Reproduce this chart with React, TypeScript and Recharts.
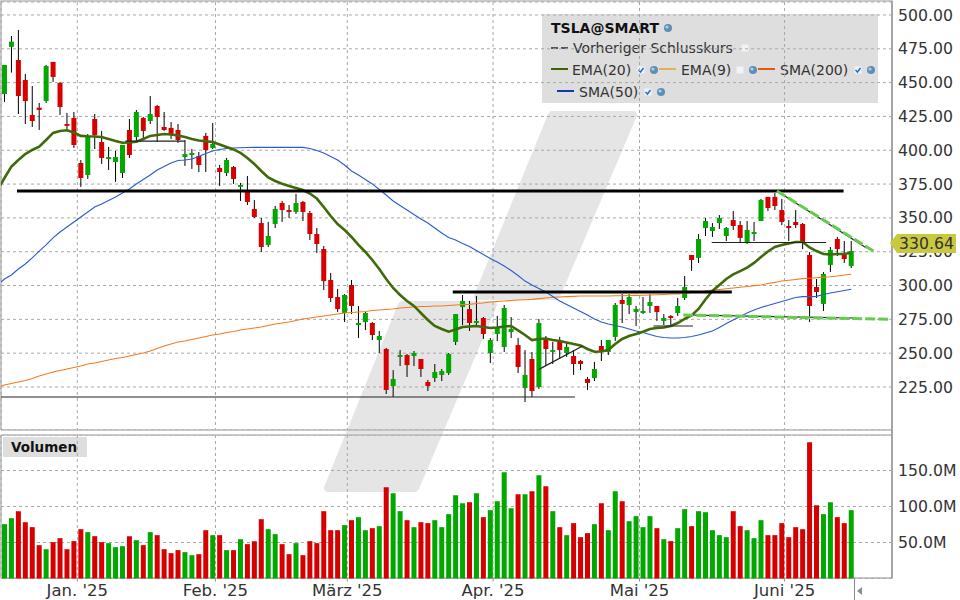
import React from 'react';
import { ComposedChart, Bar, Line, Cell, XAxis, YAxis, CartesianGrid, ReferenceLine } from 'recharts';

const FONT = '"DejaVu Sans", sans-serif';
const UP = '#00a800';
const DOWN = '#d60000';
const GRID = '#a8a8a8';

// daily candles, first day of the window first
const opens = [
  441.6, 476.4, 466.7, 452.0, 426.1, 431.5, 436.4, 465.3, 449.7, 419.4, 423.9, 390.6, 381.7, 423.1, 406.1, 393.5, 391.3, 383.2, 415.0, 409.8,
  423.9, 421.6, 432.7, 417.2, 416.5, 415.0, 395.0, 396.5, 395.8, 410.6, 401.7, 386.9, 383.2, 387.6, 372.9, 370.6, 356.6, 346.2, 330.0, 345.5,
  361.0, 355.8, 354.4, 361.8, 353.6, 338.1, 327.0, 304.1, 291.5, 279.7, 300.4, 270.8, 273.0, 272.3, 259.7, 253.1, 225.7, 247.2, 248.6, 247.9,
  245.7, 228.7, 231.6, 233.9, 235.3, 258.3, 284.1, 282.6, 272.3, 276.0, 250.1, 264.2, 254.6, 265.6, 256.0, 224.2, 245.7, 225.0, 259.7, 250.9,
  258.3, 250.1, 247.9, 244.2, 230.9, 231.6, 255.3, 250.9, 262.0, 289.3, 285.6, 280.4, 279.7, 284.9, 284.9, 273.8, 277.5, 279.7, 290.8, 322.6,
  320.4, 342.5, 340.3, 346.2, 336.6, 348.4, 344.7, 332.2, 338.1, 347.7, 365.5, 365.5, 355.8, 344.0, 347.0, 345.5, 322.6, 298.9, 286.4, 315.2,
  334.4, 322.6, 314.4,
];
const closes = [
  463.0, 480.3, 440.1, 436.4, 421.6, 429.8, 462.3, 454.2, 432.0, 418.0, 403.9, 379.5, 409.8, 411.3, 394.3, 395.0, 395.0, 403.9, 396.5, 428.3,
  414.3, 426.8, 424.6, 415.0, 412.0, 407.6, 397.2, 398.0, 389.1, 400.2, 404.6, 383.9, 392.8, 378.8, 374.3, 361.8, 350.7, 328.5, 336.6, 356.6,
  355.8, 354.4, 361.0, 354.4, 338.1, 330.7, 303.3, 290.8, 282.6, 293.0, 284.9, 272.3, 279.7, 263.4, 262.7, 222.8, 230.9, 248.6, 241.2, 250.1,
  238.3, 225.7, 236.1, 236.8, 249.4, 278.9, 288.6, 272.3, 273.8, 264.2, 259.7, 268.6, 283.4, 267.9, 239.8, 233.9, 222.0, 272.3, 253.1, 252.3,
  252.3, 254.6, 242.0, 242.0, 228.0, 238.3, 251.6, 259.7, 285.6, 286.4, 291.5, 282.7, 281.2, 287.8, 280.4, 276.0, 276.0, 284.9, 298.9, 318.9,
  334.4, 347.7, 343.3, 349.9, 342.5, 344.0, 335.2, 341.1, 339.6, 363.2, 357.3, 358.8, 347.0, 342.5, 344.7, 332.2, 284.9, 295.2, 308.5, 326.3,
  327.0, 319.6, 325.5,
];
const highs = [
  463.0, 484.5, 488.9, 456.4, 447.5, 435.0, 463.0, 465.3, 450.5, 427.6, 428.3, 392.8, 412.0, 426.8, 414.3, 402.4, 399.5, 403.9, 423.1, 429.8,
  424.6, 440.1, 433.5, 428.3, 420.9, 419.4, 407.6, 400.9, 398.7, 412.8, 420.2, 389.1, 394.3, 388.4, 375.8, 381.0, 363.2, 349.9, 347.0, 358.8,
  362.5, 359.5, 367.7, 362.5, 355.1, 342.5, 329.2, 309.3, 297.4, 293.7, 304.1, 284.9, 280.4, 273.0, 266.4, 253.8, 237.5, 252.3, 249.4, 251.6,
  245.7, 230.2, 242.0, 238.3, 250.1, 278.9, 293.0, 288.6, 292.3, 276.7, 261.2, 277.5, 285.6, 276.7, 261.2, 252.3, 250.9, 275.3, 262.7, 258.3,
  262.0, 258.3, 252.3, 244.9, 232.4, 243.5, 259.7, 259.7, 287.1, 293.7, 293.7, 284.9, 291.5, 293.7, 284.9, 278.9, 278.2, 290.8, 307.0, 322.6,
  338.1, 349.9, 346.2, 352.1, 343.3, 355.1, 347.7, 347.7, 347.0, 364.0, 365.5, 368.4, 364.0, 348.4, 355.8, 346.2, 324.8, 304.8, 310.0, 328.5,
  335.9, 332.9, 332.9,
];
const lows = [
  435.7, 457.4, 426.8, 419.4, 417.2, 415.0, 435.0, 450.5, 426.1, 415.0, 401.7, 372.9, 378.8, 400.9, 389.9, 385.4, 376.6, 379.5, 394.3, 405.4,
  409.1, 419.4, 406.1, 414.3, 408.3, 405.4, 388.4, 386.2, 383.9, 383.9, 400.9, 373.6, 381.0, 375.1, 362.5, 359.5, 349.9, 324.8, 328.5, 342.5,
  347.0, 349.9, 352.9, 347.7, 333.7, 324.1, 296.7, 287.8, 280.4, 273.0, 278.9, 261.2, 267.1, 259.7, 250.1, 219.8, 217.6, 240.5, 232.4, 240.5,
  232.4, 222.0, 228.7, 229.4, 233.9, 256.0, 270.8, 266.4, 270.1, 260.5, 242.7, 259.0, 250.9, 261.2, 235.3, 213.9, 217.6, 223.5, 241.2, 242.0,
  245.7, 247.2, 233.9, 237.5, 222.8, 229.4, 244.2, 248.6, 259.0, 272.3, 278.9, 270.1, 278.9, 279.7, 273.8, 270.8, 270.8, 277.5, 289.3, 310.8,
  316.7, 336.6, 335.9, 341.8, 332.9, 341.1, 331.4, 330.7, 332.9, 347.7, 355.1, 355.8, 344.7, 332.9, 342.5, 327.0, 273.0, 290.8, 281.2, 310.0,
  321.8, 316.7, 312.9,
];
// volume in millions
const volumes = [
  75.5, 83.8, 93.5, 78.2, 71.3, 46.3, 40.7, 50.5, 56, 40.7, 51.9, 68.5, 64.4, 58.8, 50.5, 49.1, 43.5, 44.9, 58.8, 53.2,
  46.3, 64.4, 60.2, 40.7, 35.2, 39.4, 36.6, 32.4, 33.8, 67.1, 60.2, 60.2, 39.4, 39.4, 54.6, 47.7, 51.9, 82.4, 68.5, 61.6,
  47.7, 33.8, 49.1, 32.4, 51.9, 49.1, 93.5, 67.1, 67.1, 74.1, 81, 85.2, 67.1, 69.9, 72.7, 126.9, 118.5, 93.5, 81, 71.3,
  78.2, 76.9, 81, 71.3, 89.4, 115.7, 104.6, 106, 118.5, 85.2, 94.9, 107.4, 147.7, 97.7, 117.1, 117.1, 121.3, 143.5, 128.2, 93.5,
  71.3, 60.2, 76.9, 57.4, 63, 75.5, 104.6, 67.1, 121.3, 107.4, 79.6, 86.6, 71.3, 86.6, 69.9, 54.6, 51.9, 69.9, 96.3, 72.7,
  93.5, 92.1, 67.1, 60.2, 57.4, 93.5, 72.7, 67.1, 56, 81, 60.2, 60.2, 76.9, 57.4, 71.3, 68.5, 189.4, 101.9, 89.4, 106,
  85.2, 76.9, 94.9,
];
// the averages start one day earlier, that day is cut off by the panel edge
const ema20 = [
  370.6, 379.5, 387.9, 392.8, 397.2, 400.2, 402.6, 407.6, 412.8, 414.3, 414.8, 413.1, 410.6, 410.3, 410.2, 409.8, 408.3, 406.9, 405.6, 405.7,
  406.3, 408.3, 410.6, 411.3, 412.0, 411.7, 410.9, 409.8, 408.3, 407.2, 406.6, 406.1, 404.3, 402.4, 400.6, 398.0, 394.3, 389.8, 384.7, 379.9,
  377.3, 375.3, 373.6, 372.1, 370.6, 368.0, 364.3, 358.1, 351.4, 345.5, 341.1, 335.9, 330.0, 324.8, 318.9, 312.2, 304.8, 298.2, 293.0, 288.6,
  284.9, 279.7, 274.5, 270.1, 267.9, 265.9, 267.5, 269.3, 269.7, 270.1, 269.3, 268.6, 269.0, 269.7, 270.1, 266.8, 263.4, 259.7, 260.5, 260.8,
  259.7, 259.0, 257.9, 256.8, 255.7, 253.1, 251.1, 251.2, 252.3, 256.8, 260.5, 262.7, 264.2, 265.9, 267.9, 268.6, 269.0, 270.1, 272.3, 275.3,
  277.9, 282.7, 289.7, 296.0, 300.4, 304.8, 308.2, 310.7, 313.3, 316.7, 321.1, 325.2, 328.5, 330.0, 331.1, 332.2, 332.2, 328.1, 325.5, 323.3,
  322.9, 323.3, 323.3, 324.3,
];
const sma50 = [
  300.4, 304.8, 307.8, 312.2, 315.9, 320.4, 325.5, 330.0, 335.2, 339.6, 343.3, 347.0, 350.7, 354.4, 358.1, 360.3, 362.9, 365.5, 368.4, 371.4,
  375.1, 378.4, 381.7, 385.4, 388.0, 390.6, 392.4, 392.8, 393.5, 395.4, 397.6, 399.5, 400.6, 401.3, 401.7, 401.8, 402.0, 402.1, 402.1, 402.1,
  402.1, 402.1, 402.1, 402.1, 402.1, 401.3, 399.8, 398.0, 395.4, 392.8, 389.1, 384.7, 381.7, 378.4, 375.1, 371.0, 366.9, 362.5, 359.2, 355.8,
  352.5, 349.2, 346.2, 342.5, 338.8, 335.5, 333.7, 331.1, 328.9, 325.9, 322.9, 320.0, 317.4, 314.4, 311.1, 307.4, 303.3, 300.4, 297.8, 295.2,
  291.9, 288.6, 286.0, 283.4, 280.8, 278.2, 275.3, 273.0, 271.6, 270.5, 269.3, 267.9, 266.4, 265.3, 263.8, 262.3, 261.6, 261.2, 261.2, 261.6,
  262.3, 263.4, 264.9, 266.4, 269.0, 271.9, 274.5, 277.1, 279.7, 281.9, 283.8, 285.2, 286.7, 288.2, 289.7, 291.2, 291.8, 291.8, 292.0, 293.4,
  294.5, 295.4, 296.3, 297.2,
];
const sma200 = [
  225.4, 226.5, 227.6, 228.7, 229.8, 231.3, 233.1, 234.6, 236.1, 237.2, 238.3, 239.4, 240.5, 242.0, 242.7, 243.8, 244.9, 246.0, 246.8, 247.9,
  249.0, 250.1, 251.6, 253.5, 255.3, 256.8, 258.3, 259.0, 260.1, 261.2, 262.3, 263.4, 264.2, 265.3, 266.0, 267.1, 267.9, 268.6, 269.3, 270.5,
  271.6, 272.3, 273.0, 274.2, 275.3, 276.0, 276.7, 277.5, 278.2, 278.9, 279.7, 280.1, 280.4, 280.8, 281.5, 281.9, 282.3, 282.6, 283.4, 283.8,
  284.1, 284.5, 284.5, 284.9, 284.9, 285.2, 285.6, 286.0, 286.1, 286.7, 287.1, 287.8, 288.2, 288.6, 288.9, 289.3, 289.5, 289.8, 290.3, 290.8,
  291.3, 291.5, 291.8, 292.0, 292.3, 292.3, 292.3, 292.3, 292.3, 292.4, 292.5, 292.6, 292.7, 292.8, 293.0, 293.2, 293.4, 293.7, 293.7, 294.1,
  294.8, 295.2, 295.9, 296.7, 297.1, 297.6, 298.2, 298.7, 299.3, 299.9, 300.4, 301.5, 302.3, 303.4, 303.9, 304.5, 305.1, 305.4, 305.8, 306.2,
  306.5, 307.0, 307.8, 308.3,
];

const priceTicks = [225, 250, 275, 300, 325, 350, 375, 400, 425, 450, 475, 500];
const volumeTicks = [50, 100, 150];
const monthTicks = [10.5, 30.4, 49.4, 70.4, 91.5, 112.4];
const monthLabels = ["Jan. '25", "Feb. '25", "März '25", "Apr. '25", "Mai '25", "Juni '25"];
const lastPrice = 330.64;

// drawn trend lines as [day, price, day, price]
const heavyLines = [
  [1.8, 369.9, 120.9, 369.9],
  [64.6, 295.2, 104.8, 295.2],
];
const thinLines = [
  [-0.5, 217.6, 82.2, 217.6],
  [101.9, 331.8, 118.4, 331.8],
  [93.5, 270.1, 99.2, 270.1],
  [77, 238.0, 83.3, 255.3],
  [17.4, 406.8, 26, 406.8],
  [111.3, 369.9, 124.2, 327.7],
  [98.8, 278.2, 122.5, 276],
];
const dashedLines = [
  [111.3, 369.9, 125.2, 325.5],
  [97.8, 278.2, 127.6, 275],
];

const chartData = ema20.map((_, k) => {
  const i = k - 1;
  const row: any = { day: i, ema20: ema20[k], sma50: sma50[k], sma200: sma200[k] };
  if (i >= 0) {
    row.open = opens[i];
    row.close = closes[i];
    row.range = [lows[i], highs[i]];
    row.volume = volumes[i];
  }
  return row;
});

const xDomain = [-0.5, 127.88];
const priceDomain = [193.2, 509.6];

const Candle = (props: any) => {
  const { x, y, width, height, payload } = props;
  if (!payload || payload.open === undefined) return null;
  const [low, high] = payload.range;
  const perUnit = Math.abs(height) / (high - low);
  const top = y + (high - Math.max(payload.open, payload.close)) * perUnit;
  const bodyHeight = Math.max(Math.abs(payload.open - payload.close) * perUnit, 1);
  const color = payload.close >= payload.open ? UP : DOWN;
  return (
    <g>
      <line x1={x + width / 2} x2={x + width / 2} y1={y} y2={y + Math.abs(height)} stroke="#000" strokeWidth={1} />
      <rect x={x} y={top} width={width} height={bodyHeight} fill={color} />
    </g>
  );
};

const PriceTag = (props: any) => {
  const { x, y, width } = props.viewBox;
  const right = x + width;
  return (
    <g>
      <polygon
        points={`${right - 2},${y - 1} ${right + 5},${y - 10} ${right + 64},${y - 10} ${right + 64},${y + 9} ${right + 5},${y + 9}`}
        fill="#c9c93f"
      />
      <text x={right + 7} y={y + 5} fontFamily={FONT} fontSize={15.7} fill="#333">{lastPrice.toFixed(2)}</text>
    </g>
  );
};

const Globe = ({ x, y }: { x: number; y: number }) => (
  <g>
    <circle cx={x} cy={y} r={4} fill="#5c8fb5" />
    <circle cx={x - 1} cy={y - 1} r={1.6} fill="#b5d0e4" />
  </g>
);
const Check = ({ x, y, on }: { x: number; y: number; on: boolean }) => (
  <g>
    <rect x={x - 3.5} y={y - 3.5} width={7} height={7} fill="#f2f2f8" />
    {on && <path d={`M${x - 2.5} ${y} L${x - 0.5} ${y + 2} L${x + 2.5} ${y - 2}`} fill="none" stroke="#1a6fd8" strokeWidth={1.5} />}
  </g>
);

const labelStyle = { fontFamily: FONT, fontSize: 14, fill: '#333' };

// watermark, panel frames and the legend box sit behind the charts
const Backdrop = () => (
  <svg width={960} height={600} style={{ position: 'absolute', left: 0, top: 0 }}>
    <g fill="#e5e5e5" stroke="#e5e5e5" strokeWidth={8} strokeLinejoin="round">
      <polygon points="552,115 633,115 556,296 478,296" />
      <polygon points="402,305 493,305 415,488 328,488" />
    </g>
    <rect x={542} y={14} width={336} height={89} fill="#dedede" />
    <rect x={3} y={437} width={84} height={20} fill="#dedede" />

    <path d="M1 430 V1 H892 V578" fill="none" stroke="#b8b8b8" strokeWidth={1.5} />
    <path d="M1 430 H892 M1 435 H892 M1 435 V578" fill="none" stroke="#b8b8b8" strokeWidth={1.5} />
    <path d="M892 1 V578 H1" fill="none" stroke="#8c8c8c" strokeWidth={1.2} />
    <line x1={854.5} x2={854.5} y1={578} y2={600} stroke="#8c8c8c" />
    <polygon points="857,591 862,587 862,595" fill="#8c8c8c" />

    <text x={551} y={33} fontFamily={FONT} fontSize={14} fontWeight="bold" fill="#111">TSLA@SMART</text>
    <Globe x={668} y={28} />

    <line x1={551} x2={568} y1={48} y2={48} stroke="#555" strokeWidth={2} strokeDasharray="7 3" />
    <text x={573} y={53} {...labelStyle}>Vorheriger Schlusskurs</text>
    <Check x={745} y={48} on={false} />

    <line x1={551} x2={568} y1={69} y2={69} stroke="#3c6405" strokeWidth={2} />
    <text x={572} y={75} {...labelStyle}>EMA(20)</text>
    <Check x={641} y={70} on />
    <Globe x={654} y={70} />
    <line x1={659} x2={676} y1={69} y2={69} stroke="#e2b155" strokeWidth={2} />
    <text x={681} y={75} {...labelStyle}>EMA(9)</text>
    <Check x={740} y={70} on={false} />
    <Globe x={753} y={70} />
    <line x1={758} x2={775} y1={69} y2={69} stroke="#e0590f" strokeWidth={2} />
    <text x={780} y={75} {...labelStyle}>SMA(200)</text>
    <Check x={858} y={70} on />
    <Globe x={871} y={70} />

    <line x1={557} x2={574} y1={91} y2={91} stroke="#1038b0" strokeWidth={2} />
    <text x={579} y={97} {...labelStyle}>SMA(50)</text>
    <Check x={648} y={92} on />
    <Globe x={661} y={92} />

    <text x={11} y={452} fontFamily={FONT} fontSize={13.5} fontWeight="bold" fill="#111">Volumen</text>
  </svg>
);

export default function App() {
  return (
    <div style={{ position: 'absolute', left: 0, top: 0, width: 960, height: 600, background: '#fff', overflow: 'hidden' }}>
      <Backdrop />
      <div style={{ position: 'absolute', left: 0, top: 0 }}>
        <ComposedChart width={960} height={430} data={chartData} margin={{ top: 2, right: 0, bottom: 0, left: 1 }}>
          <CartesianGrid stroke={GRID} strokeDasharray="3 3" />
          <XAxis hide type="number" dataKey="day" domain={xDomain} ticks={monthTicks} allowDataOverflow />
          <YAxis
            orientation="right"
            width={68}
            domain={priceDomain}
            ticks={priceTicks}
            allowDataOverflow
            interval={0}
            axisLine={false}
            tickLine={false}
            tickMargin={0}
            tickFormatter={(v: number) => v.toFixed(2)}
            tick={{ fontFamily: FONT, fontSize: 15.7, fill: '#333' }}
          />
          <Bar dataKey="range" barSize={5} shape={<Candle />} isAnimationActive={false} />
          <Line dataKey="sma200" stroke="#f47a20" strokeWidth={1.1} dot={false} isAnimationActive={false} />
          <Line dataKey="sma50" stroke="#2a5bd0" strokeWidth={1.1} dot={false} isAnimationActive={false} />
          <Line dataKey="ema20" stroke="#3f6a0a" strokeWidth={2.6} dot={false} isAnimationActive={false} />
          {thinLines.map((l, i) => (
            <ReferenceLine key={'thin' + i} segment={[{ x: l[0], y: l[1] }, { x: l[2], y: l[3] }]} stroke="#222" strokeWidth={1.2} />
          ))}
          {heavyLines.map((l, i) => (
            <ReferenceLine key={'heavy' + i} segment={[{ x: l[0], y: l[1] }, { x: l[2], y: l[3] }]} stroke="#000" strokeWidth={3} />
          ))}
          {dashedLines.map((l, i) => (
            <ReferenceLine key={'dash' + i} segment={[{ x: l[0], y: l[1] }, { x: l[2], y: l[3] }]} stroke="#66cc4d" strokeWidth={3} strokeDasharray="10 3" />
          ))}
        </ComposedChart>
      </div>
      <div style={{ position: 'absolute', left: 0, top: 435 }}>
        <ComposedChart width={960} height={165} data={chartData} margin={{ top: 0, right: 0, bottom: 0, left: 1 }}>
          <CartesianGrid stroke={GRID} strokeDasharray="3 3" />
          <XAxis
            type="number"
            dataKey="day"
            domain={xDomain}
            ticks={monthTicks}
            allowDataOverflow
            interval={0}
            height={21.5}
            axisLine={false}
            tickLine={{ stroke: '#8c8c8c' }}
            tickSize={3}
            tickMargin={3}
            tickFormatter={(v: number) => monthLabels[monthTicks.indexOf(v)]}
            tick={{ fontFamily: FONT, fontSize: 16.5, fill: '#333' }}
          />
          <YAxis
            orientation="right"
            width={68}
            domain={[0, 199.3]}
            ticks={volumeTicks}
            interval={0}
            axisLine={false}
            tickLine={false}
            tickMargin={0}
            tickFormatter={(v: number) => v.toFixed(1) + 'M'}
            tick={{ fontFamily: FONT, fontSize: 15.7, fill: '#333' }}
          />
          <Bar dataKey="volume" barSize={5} isAnimationActive={false}>
            {chartData.map((row, i) => (
              <Cell key={i} fill={row.close >= row.open ? UP : DOWN} />
            ))}
          </Bar>
        </ComposedChart>
      </div>
      {/* the last price tag covers the axis labels, so it gets its own layer on top */}
      <div style={{ position: 'absolute', left: 0, top: 0 }}>
        <ComposedChart width={960} height={430} data={chartData} margin={{ top: 2, right: 68, bottom: 0, left: 1 }}>
          <XAxis hide type="number" dataKey="day" domain={xDomain} allowDataOverflow />
          <YAxis hide domain={priceDomain} allowDataOverflow />
          <ReferenceLine y={lastPrice} stroke="none" label={<PriceTag />} />
        </ComposedChart>
      </div>
    </div>
  );
}
